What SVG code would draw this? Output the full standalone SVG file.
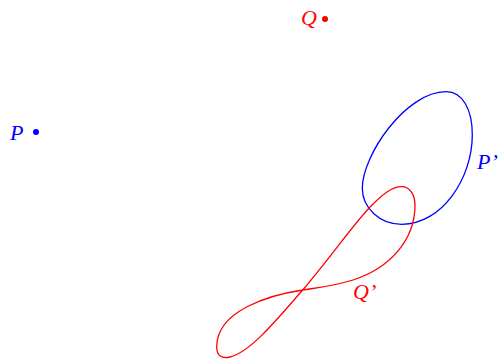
<svg xmlns="http://www.w3.org/2000/svg" width="499" height="361" viewBox="0 0 499 361">
<style>
.lbl{font-family:"Liberation Serif","DejaVu Serif",serif;font-style:italic;font-size:22px}
.red{fill:#ff0000}
.blue{fill:#0000ff}
.curve{fill:none;stroke-width:1.3}
</style>
<rect width="499" height="361" fill="#ffffff"/>
<g id="P">
<text class="lbl blue" x="10" y="140">P</text>
<circle class="blue" cx="36" cy="132" r="3"/>
</g>
<g id="Q">
<text class="lbl red" x="301" y="25">Q</text>
<circle class="red" cx="325" cy="19" r="3"/>
</g>
<g id="connectors">
<path id="Pprime-curve" class="curve" stroke="#0000ff" d="M446,91.7 C463,91.7 472.3,110 472.3,135 C472.3,178 442,224.3 401.7,224.3 C380,224.3 362.3,208 362.3,188.3 C362.3,155 406,91.7 446,91.7 Z"/>
<path id="Qprime-curve" class="curve" stroke="#ff0000" d="M401.7,186.7 C410,186.7 415,195 415,205 C415,240 390,268 353,280 C330,287 315,288 302.7,290 C270,295 217,310 216.7,346.7 C216.7,356 222,359 230,357 C250,352 275,322 302.7,290 C330,258 355,222 372,205 C383,194 392,186.7 401.7,186.7 Z"/>
</g>
<g id="Pprime">
<text class="lbl blue" x="477" y="169">P’</text>
</g>
<g id="Qprime">
<text class="lbl red" x="353" y="299">Q’</text>
</g>
</svg>
